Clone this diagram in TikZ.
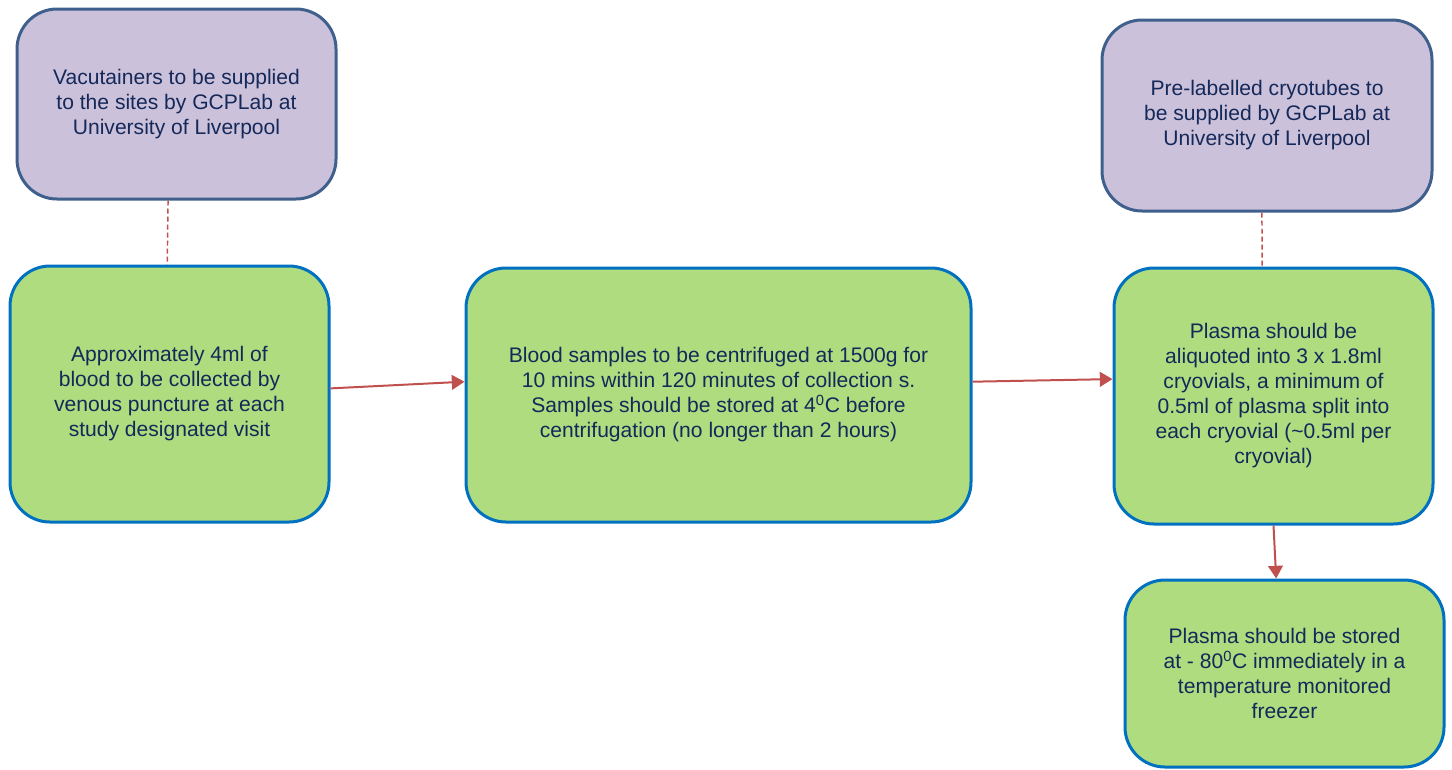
\documentclass[tikz,border=0pt]{standalone}
\usepackage{fontspec}
\setmainfont{Liberation Sans}
\usetikzlibrary{arrows.meta,positioning}
\definecolor{lilac}{RGB}{204,193,218}
\definecolor{slate}{RGB}{63,95,140}
\definecolor{leaf}{RGB}{175,220,126}
\definecolor{sea}{RGB}{0,112,192}
\definecolor{ink}{RGB}{20,40,90}
\definecolor{brick}{RGB}{192,80,77}
\tikzset{
    %Define standard arrow tip
    >={Triangle[length=9.5pt,width=11pt]},
    %Define style for boxes
    supplybox/.style={
           rectangle,
           rounded corners=30pt,
           draw=slate, line width=2.25pt,
           fill=lilac,
           text=ink,
           align=center,
           minimum width=239.25pt,
           minimum height=142.5pt},
    stepbox/.style={
           rectangle,
           rounded corners=30pt,
           draw=sea, line width=2.25pt,
           fill=leaf,
           text=ink,
           align=center,
           minimum width=239.25pt,
           minimum height=192pt},
    % Define arrow style
    pil/.style={
           ->,
           draw=brick, fill=brick,
           line width=1.5pt},
    link/.style={
           draw=brick,
           line width=1.1pt,
           dash pattern=on 3.75pt off 2.25pt}
}
\begin{document}
\begin{tikzpicture}[x=0.75pt,y=-0.75pt,font=\fontsize{15.8}{18.75}\selectfont]
\useasboundingbox (0,0) rectangle (1452,769);

 %nodes
\node[supplybox] (vac) at (176.5,104) {Vacutainers to be supplied\\to the sites by GCPLab at\\University of Liverpool};
\node[supplybox, minimum width=247.5pt, minimum height=143.25pt] (tubes) at (1267,115.5) {Pre-labelled cryotubes to\\be supplied by GCPLab at\\University of Liverpool};
\node[stepbox] (collect) at (169.5,394) {Approximately 4ml of\\blood to be collected by\\venous puncture at each\\study designated visit};
\node[stepbox, minimum width=378.75pt, minimum height=190.5pt] (spin) at (718.5,395) {Blood samples to be centrifuged at 1500g for\\10 mins within 120 minutes of collection s.\\Samples should be stored at 4\textsuperscript{0}C before\\centrifugation (no longer than 2 hours)};
\node[stepbox] (aliquot) at (1273.5,396) {Plasma should be\\aliquoted into 3 x 1.8ml\\cryovials, a minimum of\\0.5ml of plasma split into\\each cryovial (\textasciitilde0.5ml per\\cryovial)};
\node[stepbox, minimum height=140.25pt] (store) at (1284.5,673.5) {Plasma should be stored\\at - 80\textsuperscript{0}C immediately in a\\temperature monitored\\freezer};

 %connectors
\draw[link] (vac.-95.7) -- (collect.91);
\draw[link] (tubes.-93) -- (aliquot.95.1);
\draw[pil] (collect.2.5) -- (spin.177.3);
\draw[pil] (spin.3.85) -- (aliquot.174.3);
\draw[pil] (aliquot.south) -- (store.95.2);
\end{tikzpicture}
\end{document}
